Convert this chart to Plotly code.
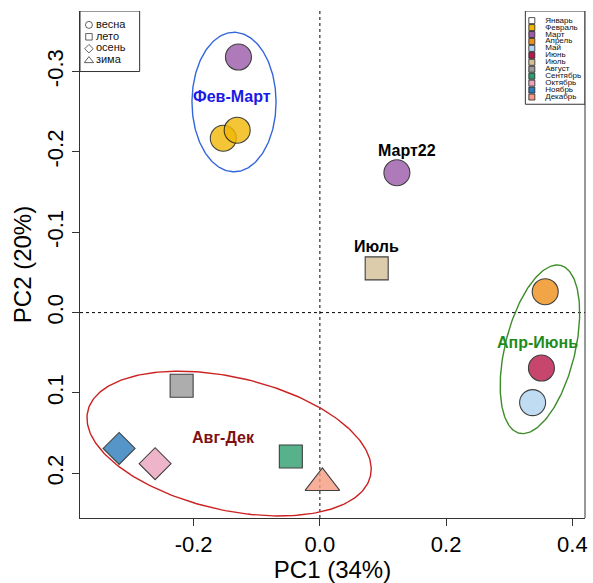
import numpy as np
import plotly.graph_objects as go

# --- PCA scores, one entry per sample ---------------------------------
sample_month = ["Март", "Февраль", "Февраль", "Март", "Июль", "Апрель",
                "Июнь", "Май", "Август", "Ноябрь", "Октябрь", "Сентябрь",
                "Декабрь"]
sample_season = ["весна", "весна", "весна", "весна", "лето", "весна",
                 "весна", "весна", "лето", "осень", "осень", "лето", "зима"]
pc1 = [-0.129, -0.153, -0.131, 0.122, 0.090, 0.357,
       0.351, 0.337, -0.219, -0.318, -0.261, -0.046, 0.004]
pc2 = [-0.318, -0.217, -0.227, -0.174, -0.055, -0.026,
       0.069, 0.112, 0.091, 0.169, 0.188, 0.179, 0.212]

# point labels (index into the samples above)
point_label_idx = [3, 4]
point_label_text = ["Март22", "Июль"]

# --- legends ------------------------------------------------------------
seasons = ["весна", "лето", "осень", "зима"]
months = ["Январь", "Февраль", "Март", "Апрель", "Май", "Июнь", "Июль",
          "Август", "Сентябрь", "Октябрь", "Ноябрь", "Декабрь"]
month_colors = ["#FFFFFF", "#F2B705", "#9B59A8", "#EE8F1A", "#B0D4F1",
                "#B8184A", "#D4C097", "#999999", "#2E9E6E", "#EBA3BE",
                "#2B7BBA", "#F79C82"]

# --- group ellipses: centre, two semi-axis vectors (PC1, PC2 units) ----
group_names = ["Фев-Март", "Апр-Июнь", "Авг-Дек"]
group_center = [(-0.136, -0.262), (0.3486, 0.0457), (-0.1438, 0.163)]
group_axis_u = [(0.0666, 0.0), (0.0327, -0.1044), (0.2239, 0.0404)]
group_axis_v = [(0.0, 0.0868), (0.0538, 0.0104), (-0.0236, 0.0805)]
group_label_pos = [(-0.139, -0.269), (0.344, 0.037), (-0.152, 0.156)]
group_line_colors = ["#3366DD", "#3C8C28", "#CC2222"]
group_text_colors = ["#1A1AE6", "#1E8B1E", "#7F1010"]

symbol_of = {"весна": "circle", "лето": "square", "осень": "diamond",
             "зима": "triangle-up"}
size_of = {"весна": 26, "лето": 23, "осень": 24.6, "зима": 30}
color_of = dict(zip(months, month_colors))

FONT = "Liberation Sans, Arial, sans-serif"
X_RANGE = [-0.380, 0.420]
Y_RANGE = [0.2556, -0.3753]

fig = go.Figure()

# ellipses
t = np.linspace(0, 2 * np.pi, 241)
for c, u, v, col in zip(group_center, group_axis_u, group_axis_v,
                        group_line_colors):
    ex = c[0] + u[0] * np.cos(t) + v[0] * np.sin(t)
    ey = c[1] + u[1] * np.cos(t) + v[1] * np.sin(t)
    fig.add_trace(go.Scatter(x=ex, y=ey, mode="lines",
                             line=dict(color=col, width=1.4),
                             hoverinfo="skip", showlegend=False))

# samples
fig.add_trace(go.Scatter(
    x=pc1, y=pc2, mode="markers", showlegend=False,
    text=sample_month,
    marker=dict(symbol=[symbol_of[s] for s in sample_season],
                size=[size_of[s] for s in sample_season],
                color=[color_of[m] for m in sample_month],
                opacity=0.8,
                line=dict(color="#111111", width=1.1)),
))

# dotted reference lines through the origin
fig.add_shape(type="line", xref="x", yref="paper", x0=0, x1=0, y0=0, y1=1,
              line=dict(color="black", width=1, dash="dot"), layer="below")
fig.add_shape(type="line", xref="paper", yref="y", x0=0, x1=1, y0=0, y1=0,
              line=dict(color="black", width=1, dash="dot"), layer="below")
# right edge of the frame
fig.add_shape(type="line", xref="paper", yref="paper", x0=1, x1=1, y0=0,
              y1=1, line=dict(color="#333333", width=1))

# point labels
for i, txt in zip(point_label_idx, point_label_text):
    fig.add_annotation(x=pc1[i], y=pc2[i], text="<b>%s</b>" % txt,
                       showarrow=False, yshift=22,
                       xshift=10 if txt == "Март22" else 0,
                       font=dict(family=FONT, size=16, color="black"))

# group labels
for name, pos, col in zip(group_names, group_label_pos, group_text_colors):
    fig.add_annotation(x=pos[0], y=pos[1], text="<b>%s</b>" % name,
                       showarrow=False,
                       font=dict(family=FONT, size=16, color=col))

# --- legend boxes, drawn on an overlay axis measured in pixels ----------
L_X0, L_X1, TOP = 80, 140, 11
fig.add_shape(type="rect", xref="x2", yref="y2", x0=L_X0, x1=L_X1,
              y0=TOP, y1=72, line=dict(color="#333333", width=1),
              fillcolor="white", layer="below")
season_y = [25 + 12 * i for i in range(len(seasons))]
fig.add_trace(go.Scatter(
    x=[89] * len(seasons), y=season_y, xaxis="x2", yaxis="y2",
    mode="markers", showlegend=False, hoverinfo="skip",
    marker=dict(symbol=[symbol_of[s] + "-open" for s in seasons],
                size=[7, 6.5, 6.5, 8], color="#222222",
                line=dict(width=1))))
fig.add_trace(go.Scatter(
    x=[96] * len(seasons), y=season_y, xaxis="x2", yaxis="y2",
    mode="text", text=seasons, textposition="middle right",
    showlegend=False, hoverinfo="skip",
    textfont=dict(family=FONT, size=11, color="#111111")))

R_X0, R_X1 = 528, 588
fig.add_shape(type="rect", xref="x2", yref="y2", x0=R_X0, x1=R_X1,
              y0=TOP, y1=105, line=dict(color="#333333", width=1),
              fillcolor="white", layer="below")
month_y = [20.7 + 7.0 * i for i in range(len(months))]
fig.add_trace(go.Scatter(
    x=[534.5] * len(months), y=month_y, xaxis="x2", yaxis="y2",
    mode="markers", showlegend=False, hoverinfo="skip",
    marker=dict(symbol="square", size=6, color=month_colors,
                line=dict(color="#222222", width=0.8))))
fig.add_trace(go.Scatter(
    x=[548] * len(months), y=month_y, xaxis="x2", yaxis="y2",
    mode="text", text=months, textposition="middle right",
    showlegend=False, hoverinfo="skip",
    textfont=dict(family=FONT, size=8, color="#111111")))

fig.update_layout(
    width=593, height=583,
    margin=dict(l=80, r=5, t=11, b=61),
    paper_bgcolor="white", plot_bgcolor="white",
    font=dict(family=FONT, color="black"),
    xaxis=dict(range=X_RANGE, tickvals=[-0.2, 0.0, 0.2, 0.4],
               ticktext=["-0.2", "0.0", "0.2", "0.4"],
               ticks="outside", ticklen=7, tickcolor="#333333",
               showline=True, linecolor="#333333", linewidth=1,
               showgrid=False, zeroline=False,
               tickfont=dict(family=FONT, size=22),
               title=dict(text="PC1 (34%)", standoff=4,
                          font=dict(family=FONT, size=24))),
    yaxis=dict(range=Y_RANGE, tickvals=[-0.3, -0.2, -0.1, 0.0, 0.1, 0.2],
               ticktext=["-0.3", "-0.2", "-0.1", "0.0", "0.1", "0.2"],
               tickangle=-90,
               ticks="outside", ticklen=7, tickcolor="#333333",
               showline=True, linecolor="#333333", linewidth=1,
               showgrid=False, zeroline=False,
               tickfont=dict(family=FONT, size=22),
               title=dict(text="PC2 (20%)", standoff=4,
                          font=dict(family=FONT, size=24))),
    xaxis2=dict(overlaying="x", range=[80, 588], visible=False,
                fixedrange=True),
    yaxis2=dict(overlaying="y", range=[522, 11], visible=False,
                fixedrange=True),
)

fig.write_html("out.html")
